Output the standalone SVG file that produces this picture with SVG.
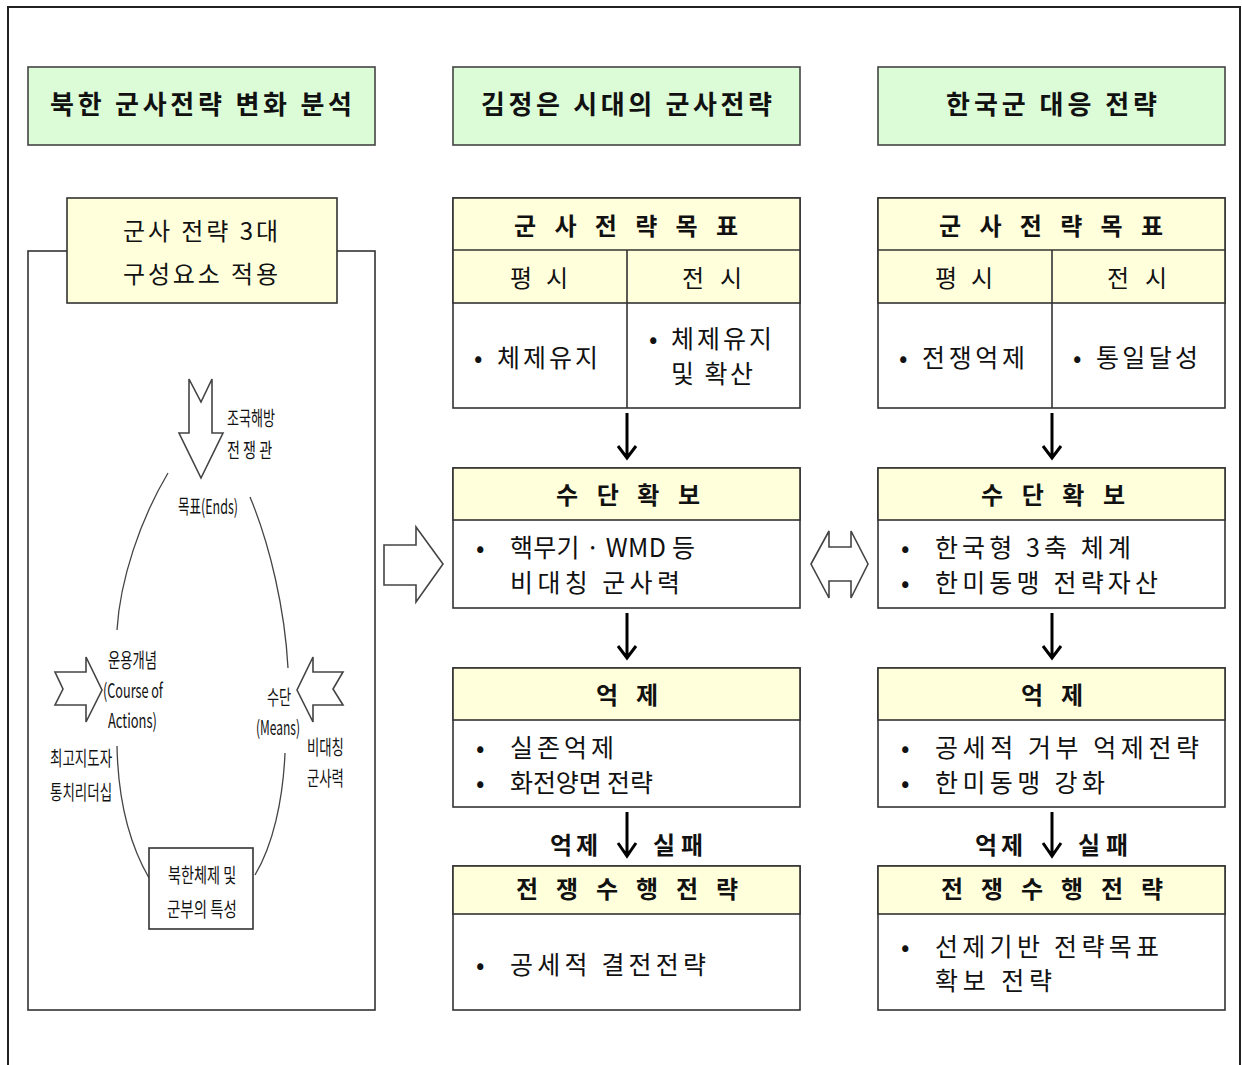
<svg xmlns="http://www.w3.org/2000/svg" width="1242" height="1065" viewBox="0 0 1242 1065">
<style>
.frame{fill:none;stroke:#222;stroke-width:2}
.box{fill:#fff;stroke:#333;stroke-width:1.6}
.grn{fill:#dcfcd8;stroke:#444;stroke-width:1.6}
.yel{fill:#ffffdc;stroke:#333;stroke-width:1.6}
.ln{fill:none;stroke:#333;stroke-width:1.6}
.arr{fill:none;stroke:#000;stroke-width:3;stroke-linecap:butt}
.shp{fill:#fff;stroke:#444;stroke-width:1.6;stroke-linejoin:miter}
.curve{fill:none;stroke:#444;stroke-width:1.3}
text{font-family:"Noto Sans CJK KR","Noto Sans",sans-serif;fill:#111}
.hd{font-size:26px;font-weight:700}
.th{font-size:24px;font-weight:700}
.tc{font-size:24px}
.bd{font-size:25px}
.sm{font-size:20px}
</style>

<rect class="frame" x="8" y="7" width="1232" height="1080"/>

<g id="header-left">
<rect class="grn" x="28" y="67" width="347" height="78"/>
<text class="hd" x="50" y="114" textLength="302">북한 군사전략 변화 분석</text>
</g>
<g id="header-mid">
<rect class="grn" x="453" y="67" width="347" height="78"/>
<text class="hd" x="481" y="114" textLength="291">김정은 시대의 군사전략</text>
</g>
<g id="header-right">
<rect class="grn" x="878" y="67" width="347" height="78"/>
<text class="hd" x="946" y="114" textLength="211">한국군 대응 전략</text>
</g>

<g id="left-panel">
<rect class="box" x="28" y="251" width="347" height="759"/>
<g id="left-label">
<rect class="yel" x="67" y="198" width="270" height="105"/>
<text class="tc" x="123" y="240" textLength="155">군사 전략 3대</text>
<text class="tc" x="123" y="283" textLength="155">구성요소 적용</text>
</g>
<g id="cycle">
<path class="curve" d="M168,473 C140,520 120,580 117,630"/>
<path class="curve" d="M250,497 C270,545 285,610 288,668"/>
<path class="curve" d="M117,746 C118,800 130,845 149,878"/>
<path class="curve" d="M285,753 C283,800 273,845 255,875"/>
</g>
<g id="ends-arrow">
<path class="shp" d="M189,379 L201,402 L212,379 L212,433 L223,433 L201,478 L179,433 L189,433 Z"/>
<text class="sm" transform="translate(227,426) scale(0.55,1)" textLength="87" lengthAdjust="spacingAndGlyphs">조국해방</text>
<text class="sm" transform="translate(227,458) scale(0.55,1)" textLength="82" lengthAdjust="spacingAndGlyphs">전 쟁 관</text>
<text class="sm" transform="translate(178,514) scale(0.55,1)" textLength="109" lengthAdjust="spacingAndGlyphs">목표(Ends)</text>
</g>
<g id="ways-arrow">
<path class="shp" d="M55,672 L86,672 L86,657 L102,690 L86,722 L86,705 L55,705 L63,689 Z"/>
<text class="sm" transform="translate(108,668) scale(0.55,1)" textLength="89" lengthAdjust="spacingAndGlyphs">운용개념</text>
<text class="sm" transform="translate(103,698) scale(0.55,1)" textLength="109" lengthAdjust="spacingAndGlyphs">(Course of</text>
<text class="sm" transform="translate(108,728) scale(0.55,1)" textLength="89" lengthAdjust="spacingAndGlyphs">Actions)</text>
<text class="sm" transform="translate(50,766) scale(0.55,1)" textLength="113" lengthAdjust="spacingAndGlyphs">최고지도자</text>
<text class="sm" transform="translate(50,800) scale(0.55,1)" textLength="113" lengthAdjust="spacingAndGlyphs">통치리더십</text>
</g>
<g id="means-arrow">
<path class="shp" d="M343,672 L313,672 L313,657 L297,690 L313,722 L313,705 L343,705 L333,689 Z"/>
<text class="sm" transform="translate(267,705) scale(0.55,1)" textLength="44" lengthAdjust="spacingAndGlyphs">수단</text>
<text class="sm" transform="translate(256,735) scale(0.55,1)" textLength="80" lengthAdjust="spacingAndGlyphs">(Means)</text>
<text class="sm" transform="translate(307,755) scale(0.55,1)" textLength="67" lengthAdjust="spacingAndGlyphs">비대칭</text>
<text class="sm" transform="translate(307,786) scale(0.55,1)" textLength="67" lengthAdjust="spacingAndGlyphs">군사력</text>
</g>
<g id="nk-base">
<rect class="box" x="149" y="848" width="104" height="81"/>
<text class="sm" transform="translate(168,883) scale(0.55,1)" textLength="124" lengthAdjust="spacingAndGlyphs">북한체제 및</text>
<text class="sm" transform="translate(167,917) scale(0.55,1)" textLength="127" lengthAdjust="spacingAndGlyphs">군부의 특성</text>
</g>
</g>

<g id="connectors">
<path class="shp" d="M384,545 L416,545 L416,527 L443,564 L416,602 L416,585 L384,585 Z"/>
<path class="shp" d="M811,564 L829,531 L829,547 L851,547 L851,531 L868,564 L851,598 L851,581 L829,581 L829,598 Z"/>
<path class="arr" d="M627,413 L627,457 M618,446 L627,458 L636,446"/>
<path class="arr" d="M627,613 L627,657 M618,646 L627,658 L636,646"/>
<path class="arr" d="M627,812 L627,855 M618,843 L627,856 L636,843"/>
<path class="arr" d="M1052,413 L1052,457 M1043,446 L1052,458 L1061,446"/>
<path class="arr" d="M1052,613 L1052,657 M1043,646 L1052,658 L1061,646"/>
<path class="arr" d="M1052,812 L1052,855 M1043,843 L1052,856 L1061,843"/>
<text class="th" x="550" y="854" textLength="48">억제</text>
<text class="th" x="653" y="854" textLength="50">실패</text>
<text class="th" x="975" y="854" textLength="48">억제</text>
<text class="th" x="1078" y="854" textLength="50">실패</text>
</g>

<g id="mid-goal">
<rect class="box" x="453" y="198" width="347" height="210"/>
<rect class="yel" x="453" y="198" width="347" height="105"/>
<line class="ln" x1="453" y1="250" x2="800" y2="250"/>
<line class="ln" x1="627" y1="250" x2="627" y2="408"/>
<text class="th" x="514" y="235" textLength="224">군 사 전 략 목 표</text>
<text class="tc" x="510" y="287" textLength="58">평 시</text>
<text class="tc" x="682" y="287" textLength="60">전 시</text>
<text class="bd" x="474" y="367">•</text>
<text class="bd" x="497" y="367" textLength="101">체제유지</text>
<text class="bd" x="649" y="348">•</text>
<text class="bd" x="671" y="348" textLength="101">체제유지</text>
<text class="bd" x="671" y="383" textLength="82">및 확산</text>
</g>
<g id="mid-means">
<rect class="box" x="453" y="468" width="347" height="140"/>
<rect class="yel" x="453" y="468" width="347" height="52"/>
<text class="th" x="556" y="504" textLength="144">수 단 확 보</text>
<text class="bd" x="476" y="557">•</text>
<text class="bd" x="510" y="557" textLength="185">핵무기 · WMD 등</text>
<text class="bd" x="510" y="592" textLength="170">비대칭 군사력</text>
</g>
<g id="mid-deter">
<rect class="box" x="453" y="668" width="347" height="139"/>
<rect class="yel" x="453" y="668" width="347" height="52"/>
<text class="th" x="596" y="704" textLength="62">억 제</text>
<text class="bd" x="476" y="757">•</text>
<text class="bd" x="510" y="757" textLength="104">실존억제</text>
<text class="bd" x="476" y="792">•</text>
<text class="bd" x="510" y="792" textLength="143">화전양면 전략</text>
</g>
<g id="mid-war">
<rect class="box" x="453" y="866" width="347" height="144"/>
<rect class="yel" x="453" y="866" width="347" height="48"/>
<text class="th" x="516" y="898" textLength="222">전 쟁 수 행 전 략</text>
<text class="bd" x="476" y="974">•</text>
<text class="bd" x="510" y="974" textLength="196">공세적 결전전략</text>
</g>

<g id="right-goal">
<rect class="box" x="878" y="198" width="347" height="210"/>
<rect class="yel" x="878" y="198" width="347" height="105"/>
<line class="ln" x1="878" y1="250" x2="1225" y2="250"/>
<line class="ln" x1="1052" y1="250" x2="1052" y2="408"/>
<text class="th" x="939" y="235" textLength="224">군 사 전 략 목 표</text>
<text class="tc" x="935" y="287" textLength="58">평 시</text>
<text class="tc" x="1107" y="287" textLength="60">전 시</text>
<text class="bd" x="899" y="367">•</text>
<text class="bd" x="922" y="367" textLength="103">전쟁억제</text>
<text class="bd" x="1073" y="367">•</text>
<text class="bd" x="1096" y="367" textLength="102">통일달성</text>
</g>
<g id="right-means">
<rect class="box" x="878" y="468" width="347" height="140"/>
<rect class="yel" x="878" y="468" width="347" height="52"/>
<text class="th" x="981" y="504" textLength="144">수 단 확 보</text>
<text class="bd" x="901" y="557">•</text>
<text class="bd" x="935" y="557" textLength="196">한국형 3축 체계</text>
<text class="bd" x="901" y="592">•</text>
<text class="bd" x="935" y="592" textLength="223">한미동맹 전략자산</text>
</g>
<g id="right-deter">
<rect class="box" x="878" y="668" width="347" height="139"/>
<rect class="yel" x="878" y="668" width="347" height="52"/>
<text class="th" x="1021" y="704" textLength="62">억 제</text>
<text class="bd" x="901" y="757">•</text>
<text class="bd" x="935" y="757" textLength="264">공세적 거부 억제전략</text>
<text class="bd" x="901" y="792">•</text>
<text class="bd" x="935" y="792" textLength="170">한미동맹 강화</text>
</g>
<g id="right-war">
<rect class="box" x="878" y="866" width="347" height="144"/>
<rect class="yel" x="878" y="866" width="347" height="48"/>
<text class="th" x="941" y="898" textLength="222">전 쟁 수 행 전 략</text>
<text class="bd" x="901" y="956">•</text>
<text class="bd" x="935" y="956" textLength="224">선제기반 전략목표</text>
<text class="bd" x="935" y="990" textLength="117">확보 전략</text>
</g>
</svg>
